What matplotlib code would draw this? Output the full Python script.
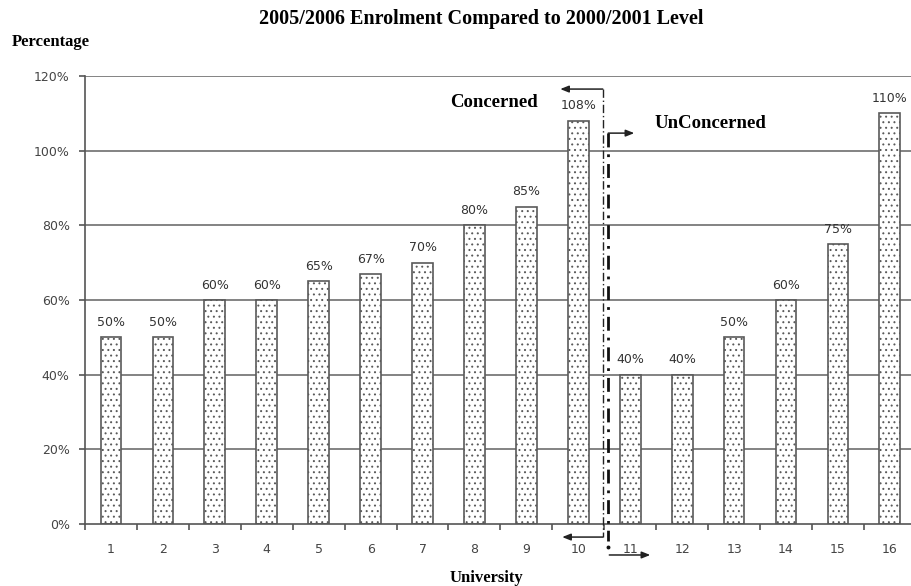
import matplotlib
matplotlib.use("Agg")
import matplotlib.pyplot as plt
import numpy as np

universities = [str(i) for i in range(1, 17)]
enrolment_pct = [50, 50, 60, 60, 65, 67, 70, 80, 85, 108, 40, 40, 50, 60, 75, 110]
value_labels = [f"{v}%" for v in enrolment_pct]
y_ticks = [0, 20, 40, 60, 80, 100, 120]
y_tick_labels = [f"{t}%" for t in y_ticks]

plt.rcParams["hatch.linewidth"] = 0.7
plt.rcParams["hatch.color"] = "#b0b0b0"

fig = plt.figure(figsize=(9.11, 5.86), dpi=100)
ax = fig.add_axes([0.0933, 0.1058, 0.912, 0.7645])

x = np.arange(1, len(universities) + 1)
ax.set_xlim(0.5, len(universities) + 0.5)
ax.set_ylim(0, 120)

grid_col = "#6e6e6e"
for t in y_ticks[1:]:
    ax.axhline(t, color=grid_col, lw=1.2, zorder=1)

bars = ax.bar(x, enrolment_pct, width=0.4, color="white", edgecolor="#5a5a5a",
              linewidth=1.2, hatch="...", zorder=2)

for xi, v, lab in zip(x, enrolment_pct, value_labels):
    ax.annotate(lab, (xi, v), xytext=(0, 6), textcoords="offset points",
                ha="center", va="bottom", fontsize=9, color="#333333",
                family="DejaVu Sans")

for s in ["top", "right"]:
    ax.spines[s].set_visible(False)
for s in ["left", "bottom"]:
    ax.spines[s].set_color("#555555")
    ax.spines[s].set_linewidth(1.2)

ax.set_yticks(y_ticks)
ax.set_yticklabels(y_tick_labels, fontsize=9, color="#444444", family="DejaVu Sans")
ax.tick_params(axis="y", direction="out", length=4, width=1.2, color="#555555", pad=7)

ax.set_xticks(x)
ax.set_xticklabels(universities, fontsize=9, color="#444444", family="DejaVu Sans")
ax.set_xticks(np.arange(0.5, len(universities) + 0.5, 1.0), minor=True)
ax.tick_params(axis="x", which="major", length=0, pad=14)
ax.tick_params(axis="x", which="minor", direction="out", length=4, width=1.2, color="#555555")

serif = "Liberation Serif"
fig.text(0.528, 0.968, "2005/2006 Enrolment Compared to 2000/2001 Level",
         ha="center", va="center", fontsize=14.5, fontweight="bold", family=serif)
fig.text(0.013, 0.928, "Percentage", ha="left", va="center", fontsize=12,
         fontweight="bold", family=serif)
fig.text(0.534, 0.014, "University", ha="center", va="center", fontsize=12,
         fontweight="bold", family=serif)

# Divider between the two groups of universities
xl, xr = 10.471, 10.577
ax.plot([xl, xl], [116.5, -3.5], color="#222222", lw=1.0,
        linestyle=(0, (6, 2, 1, 2)), clip_on=False, zorder=4)
ax.plot([xr, xr], [104.7, -4.5], color="#111111", lw=2.0,
        linestyle=(0, (5, 2.5, 1, 2.5)), clip_on=False, zorder=4)
ax.plot([xr], [-6.2], marker="o", ms=1.8, color="#111111", clip_on=False)

arrow_kw = dict(arrowstyle="-|>,head_length=0.5,head_width=0.2", color="#222222",
                lw=1.1, shrinkA=0, shrinkB=0)
ax.annotate("", xy=(9.652, 116.5), xytext=(xl, 116.5), arrowprops=arrow_kw,
            annotation_clip=False)
ax.annotate("", xy=(9.69, -3.5), xytext=(xl, -3.5), arrowprops=arrow_kw,
            annotation_clip=False)
ax.annotate("", xy=(11.078, 104.7), xytext=(xr, 104.7), arrowprops=arrow_kw,
            annotation_clip=False)
ax.annotate("", xy=(11.386, -8.3), xytext=(xr + 0.02, -8.3), arrowprops=arrow_kw,
            annotation_clip=False)

ax.text(8.38, 112.8, "Concerned", ha="center", va="center", fontsize=13.5,
        fontweight="bold", family=serif)
ax.text(12.54, 107.4, "UnConcerned", ha="center", va="center", fontsize=13.5,
        fontweight="bold", family=serif)

fig.savefig("out.png", dpi=100)
